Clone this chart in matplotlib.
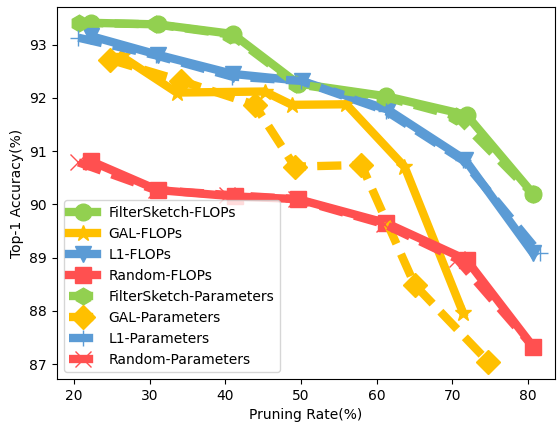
import matplotlib
matplotlib.use("Agg")
import matplotlib.pyplot as plt

# FLOPs pruning rate / accuracy
fs_flops_x = [22.3, 31.1, 41.0, 49.6, 61.3, 71.9, 80.7]
fs_flops_y = [93.41, 93.38, 93.20, 92.27, 92.03, 91.68, 90.20]
gal_flops_x = [26.3, 33.6, 45.2, 48.8, 56.0, 63.7, 71.45]
gal_flops_y = [92.78, 92.10, 92.12, 91.87, 91.88, 90.71, 87.96]
l1_flops_x = [22.25, 31.1, 41.0, 50.1, 61.5, 71.7, 80.7]
l1_flops_y = [93.16, 92.81, 92.45, 92.32, 91.78, 90.84, 89.08]
rand_flops_x = [22.3, 31.1, 41.3, 49.6, 61.3, 71.9, 80.7]
rand_flops_y = [90.81, 90.27, 90.15, 90.10, 89.65, 88.96, 87.33]

# parameters pruning rate / accuracy
fs_par_x = [20.7, 30.8, 40.7, 49.4, 61.0, 70.5, 80.7]
fs_par_y = [93.41, 93.38, 93.19, 92.26, 92.02, 91.66, 90.19]
gal_par_x = [24.75, 34.2, 43.9, 49.2, 58.0, 65.05, 74.75]
gal_par_y = [92.72, 92.32, 91.87, 90.71, 90.74, 88.49, 87.05]
l1_par_x = [20.6, 30.8, 40.9, 50.0, 61.2, 71.4, 81.6]
l1_par_y = [93.13, 92.80, 92.40, 92.32, 91.76, 90.83, 89.08]
rand_par_x = [20.6, 30.8, 40.2, 49.4, 61.0, 70.6, 80.7]
rand_par_y = [90.79, 90.27, 90.18, 90.10, 89.63, 88.98, 87.33]

green = "#92D050"
yellow = "#FFC000"
blue = "#5B9BD5"
red = "#FF5050"

fig = plt.figure(figsize=(5.57, 4.26), dpi=100)
ax = fig.add_axes([0.102, 0.110, 0.894, 0.874])

lw = 6
ms = 12
dash = (2.9, 1.35)
ax.plot(fs_flops_x, fs_flops_y, color=green, lw=lw, marker="o", ms=ms, label="FilterSketch-FLOPs")
ax.plot(gal_flops_x, gal_flops_y, color=yellow, lw=lw, marker="*", ms=ms, label="GAL-FLOPs")
ax.plot(l1_flops_x, l1_flops_y, color=blue, lw=lw, marker="v", ms=ms, label="L1-FLOPs")
ax.plot(rand_flops_x, rand_flops_y, color=red, lw=lw, marker="s", ms=ms, label="Random-FLOPs")

ax.plot(fs_par_x, fs_par_y, color=green, lw=lw, ls="--", dashes=dash, marker="h", ms=ms, label="FilterSketch-Parameters")
ax.plot(gal_par_x, gal_par_y, color=yellow, lw=lw, ls="--", dashes=dash, marker="D", ms=ms, label="GAL-Parameters")
ax.plot(l1_par_x, l1_par_y, color=blue, lw=lw, ls="--", dashes=dash, marker="+", ms=ms, label="L1-Parameters")
ax.plot(rand_par_x, rand_par_y, color=red, lw=lw, ls="--", dashes=dash, marker="x", ms=ms, label="Random-Parameters")

ax.set_xlim(17.75, 83.56)
ax.set_ylim(86.72, 93.71)
ax.set_xticks([20, 30, 40, 50, 60, 70, 80])
ax.set_yticks([87, 88, 89, 90, 91, 92, 93])
ax.set_xlabel("Pruning Rate(%)")
ax.set_ylabel("Top-1 Accuracy(%)")
ax.legend(loc="lower left")

fig.savefig("out.png", dpi=100)
